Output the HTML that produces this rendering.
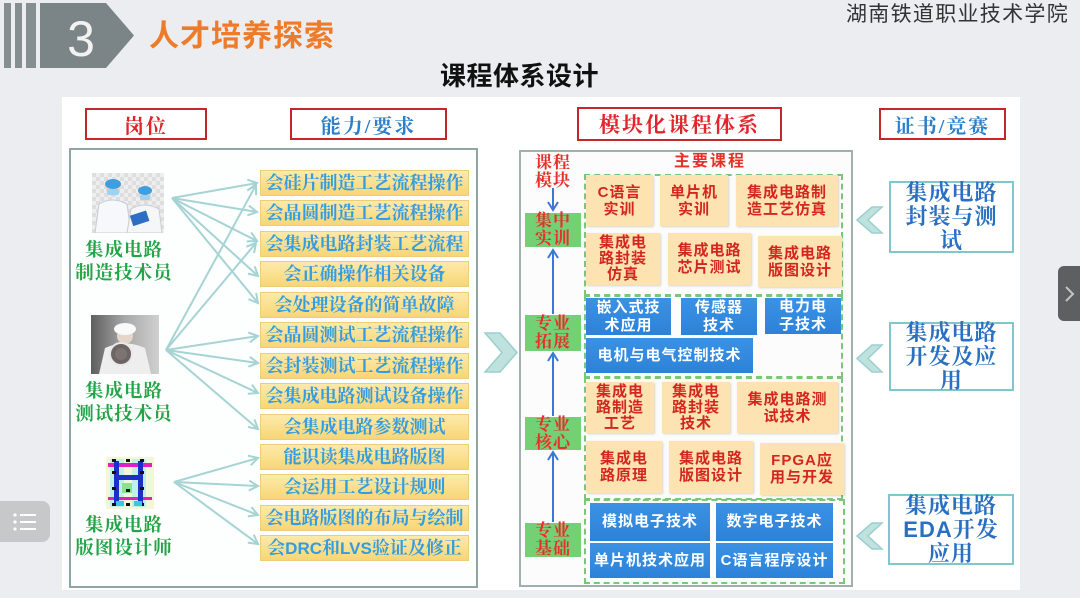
<!DOCTYPE html>
<html>
<head>
<meta charset="utf-8">
<style>
body{margin:0;background:#ebedf0;}
#r{position:relative;width:1080px;height:598px;overflow:hidden;background:#ebedf0;font-family:"Liberation Sans","Noto Sans CJK SC",sans-serif;}
.a{position:absolute;}
.c{position:absolute;display:flex;align-items:center;justify-content:center;text-align:center;box-sizing:border-box;}
.serif{font-family:"Liberation Serif","Noto Serif CJK SC",serif;}
.hb{border:2px solid #c4262c;background:#fff;font-family:"Liberation Serif","Noto Serif CJK SC",serif;font-weight:700;font-size:20px;letter-spacing:2px;}
.ab{left:260px;width:209px;height:26px;background:linear-gradient(180deg,#fdeaaa,#f8d676);border:1px solid #eccd78;color:#349ce0;font-family:"Liberation Serif","Noto Serif CJK SC",serif;font-weight:700;font-size:18px;white-space:nowrap;overflow:hidden;line-height:24px;}
.jl{left:60px;width:128px;color:#23a547;font-family:"Liberation Serif","Noto Serif CJK SC",serif;font-weight:700;font-size:18.5px;letter-spacing:1px;line-height:23px;text-align:center;}
.tan{background:#fce3b1;box-shadow:1px 1px 2px rgba(120,90,40,.25);color:#d3261e;font-weight:700;font-size:15px;line-height:17px;letter-spacing:1px;}
.blu{background:linear-gradient(180deg,#3b92e4,#2c82d8);color:#fff;font-weight:700;font-size:15px;line-height:18px;letter-spacing:1px;}
.gl{left:525px;width:56px;background:#74d074;color:#e6302a;font-family:"Liberation Serif","Noto Serif CJK SC",serif;font-weight:700;font-size:17px;line-height:18px;letter-spacing:1px;}
.ce{border:2px solid #80c7cb;background:#fff;color:#2a70c2;font-family:"Liberation Serif","Noto Serif CJK SC",serif;font-weight:700;font-size:22px;line-height:24px;letter-spacing:1px;}
.dg{position:absolute;border:2px dashed #78c878;box-sizing:border-box;}
</style>
</head>
<body>
<div id="r">
<!-- header -->
<svg class="a" style="left:0;top:0" width="140" height="72">
<rect x="4" y="3" width="7" height="65" fill="#858f91"/>
<rect x="15" y="3" width="7" height="65" fill="#858f91"/>
<rect x="26" y="3" width="10" height="65" fill="#858f91"/>
<polygon points="40,3 106,3 134,35.5 106,68 40,68" fill="#7b8587"/>
<text x="81" y="56" text-anchor="middle" font-family="Liberation Sans, sans-serif" font-size="50" fill="#f2f2f2">3</text>
</svg>
<div class="a" style="left:149px;top:17px;font-size:30px;font-weight:700;color:#ee7b29;letter-spacing:1px;font-family:'Liberation Sans','Noto Sans CJK SC',sans-serif;line-height:40px;">人才培养探索</div>
<div class="a" style="left:846px;top:2px;font-size:21px;color:#333;letter-spacing:1.3px;line-height:26px;">湖南铁道职业技术学院</div>
<div class="a" style="left:440px;top:60px;font-size:26px;font-weight:700;color:#111;letter-spacing:0.5px;line-height:32px;">课程体系设计</div>

<!-- white panel -->
<div class="a" style="left:62px;top:97px;width:958px;height:493px;background:#fff;"></div>

<!-- header boxes -->
<div class="c hb" style="left:85px;top:108px;width:122px;height:32px;color:#e0262c;">岗位</div>
<div class="c hb" style="left:290px;top:108px;width:157px;height:32px;color:#2c7fc8;">能力/要求</div>
<div class="c hb" style="left:577px;top:107px;width:205px;height:34px;color:#e0262c;font-size:21px;">模块化课程体系</div>
<div class="c hb" style="left:879px;top:108px;width:127px;height:32px;color:#2c7fc8;">证书/竞赛</div>

<!-- left panel -->
<div class="a" style="left:69px;top:148px;width:405px;height:436px;border:2px solid #8fa6a4;background:#fdfefe;"></div>

<!-- job images -->
<svg class="a" style="left:92px;top:173px" width="72" height="60">
<defs><pattern id="ck" width="8" height="8" patternUnits="userSpaceOnUse"><rect width="8" height="8" fill="#eeeeee"/><rect width="4" height="4" fill="#dedede"/><rect x="4" y="4" width="4" height="4" fill="#dedede"/></pattern></defs>
<rect width="72" height="60" fill="url(#ck)"/>
<path d="M3,60 L7,31 Q20,23 35,31 L39,60 Z" fill="#f7f8fa" stroke="#c9ccd2"/>
<circle cx="21" cy="16" r="7" fill="#f0d2bc"/>
<ellipse cx="21" cy="11" rx="8" ry="5" fill="#3d9fe0"/>
<rect x="15" y="16" width="12" height="6" rx="2" fill="#9fd2f0"/>
<path d="M35,60 L39,36 Q52,28 67,36 L70,60 Z" fill="#f5f6f8" stroke="#c9ccd2"/>
<circle cx="53" cy="22" r="6" fill="#f0d2bc"/>
<ellipse cx="53" cy="17.5" rx="7" ry="4.5" fill="#3d9fe0"/>
<rect x="48" y="22" width="10" height="5" rx="2" fill="#9fd2f0"/>
<rect x="39" y="40" width="17" height="11" fill="#2d6fc4" transform="rotate(-18 47 45)"/>
</svg>
<svg class="a" style="left:91px;top:315px" width="68" height="59">
<defs><linearGradient id="g2" x1="0" x2="1"><stop offset="0" stop-color="#5e5e5e"/><stop offset="0.5" stop-color="#a8a8a8"/><stop offset="1" stop-color="#d0d0d0"/></linearGradient></defs>
<rect width="68" height="59" fill="url(#g2)"/>
<path d="M8,59 L14,33 Q34,24 54,33 L60,59 Z" fill="#eeeeee"/>
<circle cx="34" cy="21" r="8" fill="#e6d6ca"/>
<ellipse cx="34" cy="14" rx="11" ry="6" fill="#fafafa"/>
<circle cx="30" cy="39" r="11" fill="#6c6563" stroke="#e8e8e8" stroke-width="2"/>
<circle cx="30" cy="39" r="6" fill="#7d7472"/>
</svg>
<svg class="a" style="left:102px;top:453px" width="58" height="59">
<rect width="58" height="59" fill="#fff"/>
<rect x="4" y="4" width="48" height="52" fill="#f2f7d8"/>
<rect x="8" y="6" width="14" height="48" fill="#bff0ea"/>
<rect x="30" y="6" width="14" height="48" fill="#bff0ea"/>
<rect x="6" y="10" width="44" height="4" fill="#e020c0"/>
<rect x="6" y="44" width="44" height="3" fill="#e020c0"/>
<rect x="12" y="8" width="5" height="44" fill="#1c2fc8"/>
<rect x="36" y="8" width="5" height="44" fill="#1c2fc8"/>
<rect x="17" y="22" width="19" height="5" fill="#1c2fc8"/>
<rect x="20" y="30" width="10" height="10" fill="#8de08d"/>
<rect x="10" y="6" width="4" height="3" fill="#111"/><rect x="24" y="6" width="4" height="3" fill="#111"/><rect x="38" y="6" width="4" height="3" fill="#111"/>
<rect x="10" y="18" width="4" height="3" fill="#111"/><rect x="38" y="18" width="4" height="3" fill="#111"/>
<rect x="10" y="34" width="4" height="3" fill="#111"/><rect x="24" y="36" width="4" height="3" fill="#111"/><rect x="38" y="34" width="4" height="3" fill="#111"/>
<rect x="10" y="50" width="4" height="3" fill="#111"/><rect x="24" y="50" width="4" height="3" fill="#111"/><rect x="38" y="50" width="4" height="3" fill="#111"/>
<rect x="14" y="48" width="8" height="5" fill="#3cc8d8"/><rect x="32" y="48" width="8" height="5" fill="#3cc8d8"/>
</svg>

<div class="a jl" style="top:240px;">集成电路<br>制造技术员</div>
<div class="a jl" style="top:381px;">集成电路<br>测试技术员</div>
<div class="a jl" style="top:515px;">集成电路<br>版图设计师</div>

<!-- ability boxes -->
<div class="c ab" style="top:170px;">会硅片制造工艺流程操作</div>
<div class="c ab" style="top:200px;">会晶圆制造工艺流程操作</div>
<div class="c ab" style="top:231px;">会集成电路封装工艺流程</div>
<div class="c ab" style="top:261px;">会正确操作相关设备</div>
<div class="c ab" style="top:292px;">会处理设备的简单故障</div>
<div class="c ab" style="top:322px;">会晶圆测试工艺流程操作</div>
<div class="c ab" style="top:353px;">会封装测试工艺流程操作</div>
<div class="c ab" style="top:383px;">会集成电路测试设备操作</div>
<div class="c ab" style="top:414px;">会集成电路参数测试</div>
<div class="c ab" style="top:444px;">能识读集成电路版图</div>
<div class="c ab" style="top:474px;">会运用工艺设计规则</div>
<div class="c ab" style="top:505px;">会电路版图的布局与绘制</div>
<div class="c ab" style="top:535px;"><div>会<span style="font-family:'Liberation Sans',sans-serif;font-weight:700;font-size:17px;">DRC</span>和<span style="font-family:'Liberation Sans',sans-serif;font-weight:700;font-size:17px;">LVS</span>验证及修正</div></div>

<!-- course panel -->
<div class="a" style="left:519px;top:150px;width:330px;height:433px;border:2px solid #a0b0ad;background:#fbfcfb;"></div>
<div class="a serif" style="left:529px;top:154px;width:48px;text-align:center;color:#e6302a;font-weight:700;font-size:17px;line-height:18px;letter-spacing:1px;">课程<br>模块</div>
<div class="a" style="left:660px;top:152px;width:100px;text-align:center;color:#e6302a;font-weight:700;font-size:16px;line-height:20px;letter-spacing:2px;">主要课程</div>

<div class="c gl" style="top:213px;height:34px;">集中<br>实训</div>
<div class="c gl" style="top:315px;height:36px;">专业<br>拓展</div>
<div class="c gl" style="top:417px;height:33px;">专业<br>核心</div>
<div class="c gl" style="top:523px;height:34px;">专业<br>基础</div>

<!-- dashed groups -->
<div class="dg" style="left:584px;top:174px;width:259px;height:122px;"></div>
<div class="dg" style="left:584px;top:295px;width:259px;height:83px;"></div>
<div class="dg" style="left:584px;top:377px;width:259px;height:123px;"></div>
<div class="dg" style="left:584px;top:499px;width:261px;height:85px;"></div>

<!-- group 1 -->
<div class="c tan" style="left:586px;top:175px;width:67px;height:51px;">C语言<br>实训</div>
<div class="c tan" style="left:660px;top:175px;width:68px;height:51px;">单片机<br>实训</div>
<div class="c tan" style="left:736px;top:175px;width:102px;height:51px;">集成电路制<br>造工艺仿真</div>
<div class="c tan" style="left:586px;top:233px;width:74px;height:52px;line-height:16px;">集成电<br>路封装<br>仿真</div>
<div class="c tan" style="left:668px;top:233px;width:83px;height:52px;">集成电路<br>芯片测试</div>
<div class="c tan" style="left:758px;top:236px;width:84px;height:51px;">集成电路<br>版图设计</div>

<!-- group 2 -->
<div class="c blu" style="left:586px;top:298px;width:85px;height:37px;">嵌入式技<br>术应用</div>
<div class="c blu" style="left:681px;top:298px;width:76px;height:37px;">传感器<br>技术</div>
<div class="c blu" style="left:765px;top:298px;width:76px;height:36px;">电力电<br>子技术</div>
<div class="c blu" style="left:586px;top:338px;width:167px;height:35px;">电机与电气控制技术</div>

<!-- group 3 -->
<div class="c tan" style="left:586px;top:382px;width:68px;height:51px;line-height:16px;">集成电<br>路制造<br>工艺</div>
<div class="c tan" style="left:662px;top:382px;width:68px;height:51px;line-height:16px;">集成电<br>路封装<br>技术</div>
<div class="c tan" style="left:737px;top:382px;width:101px;height:51px;">集成电路测<br>试技术</div>
<div class="c tan" style="left:586px;top:441px;width:76px;height:52px;">集成电<br>路原理</div>
<div class="c tan" style="left:669px;top:441px;width:84px;height:52px;">集成电路<br>版图设计</div>
<div class="c tan" style="left:760px;top:443px;width:84px;height:52px;">FPGA应<br>用与开发</div>

<!-- group 4 -->
<div class="c blu" style="left:590px;top:503px;width:120px;height:38px;">模拟电子技术</div>
<div class="c blu" style="left:716px;top:503px;width:117px;height:38px;">数字电子技术</div>
<div class="c blu" style="left:590px;top:543px;width:120px;height:35px;">单片机技术应用</div>
<div class="c blu" style="left:716px;top:543px;width:117px;height:35px;">C语言程序设计</div>

<!-- certificates -->
<div class="c ce" style="left:889px;top:181px;width:125px;height:72px;"><div>集成电路<br>封装与测<br>试</div></div>
<div class="c ce" style="left:889px;top:322px;width:125px;height:69px;"><div>集成电路<br>开发及应<br>用</div></div>
<div class="c ce" style="left:888px;top:494px;width:126px;height:71px;"><div>集成电路<br><span style="font-family:'Liberation Sans',sans-serif;">EDA</span>开发<br>应用</div></div>

<!-- connectors -->
<svg class="a" style="left:0;top:0" width="1080" height="598">
<defs>
<marker id="m" markerWidth="12" markerHeight="12" refX="10" refY="6" orient="auto" markerUnits="userSpaceOnUse"><path d="M1,1 L10,6 L1,11" fill="none" stroke="#a6d3d3" stroke-width="2"/></marker>
<marker id="b" markerWidth="12" markerHeight="12" refX="10" refY="6" orient="auto" markerUnits="userSpaceOnUse"><path d="M2,1 L10,6 L2,11" fill="none" stroke="#3a78d8" stroke-width="2"/></marker>
</defs>
<g stroke="#a6d3d3" stroke-width="2" fill="none" marker-end="url(#m)">
<line x1="172" y1="198" x2="257" y2="183"/>
<line x1="172" y1="198" x2="257" y2="212"/>
<line x1="172" y1="198" x2="257" y2="241"/>
<line x1="172" y1="198" x2="258" y2="276"/>
<line x1="172" y1="198" x2="258" y2="303"/>
<line x1="166" y1="350" x2="256" y2="185"/>
<line x1="166" y1="350" x2="256" y2="243"/>
<line x1="166" y1="350" x2="258" y2="336"/>
<line x1="166" y1="350" x2="258" y2="363"/>
<line x1="166" y1="350" x2="258" y2="393"/>
<line x1="166" y1="350" x2="258" y2="429"/>
<line x1="174" y1="482" x2="258" y2="458"/>
<line x1="174" y1="482" x2="258" y2="486"/>
<line x1="174" y1="482" x2="258" y2="515"/>
<line x1="174" y1="482" x2="258" y2="544"/>
</g>
<g stroke="#3a78d8" stroke-width="2" fill="none" marker-end="url(#b)">
<line x1="553" y1="188" x2="553" y2="210"/>
<line x1="553" y1="314" x2="553" y2="250"/>
<line x1="553" y1="416" x2="553" y2="353"/>
<line x1="553" y1="522" x2="553" y2="452"/>
</g>
<polygon points="485,333 500,333 517,352.5 500,372 485,372 502,352.5" fill="#bfe2de" stroke="#9bcfcf" stroke-width="1.5"/>
<polygon points="882,207 872,207 857,220 872,233 882,233 868,220" fill="#bfe2de" stroke="#9bcfcf" stroke-width="1.5"/>
<polygon points="882,345 872,345 857,358.5 872,372 882,372 868,358.5" fill="#bfe2de" stroke="#9bcfcf" stroke-width="1.5"/>
<polygon points="882,523 872,523 857,536 872,549 882,549 868,536" fill="#bfe2de" stroke="#9bcfcf" stroke-width="1.5"/>
</svg>

<!-- floating UI -->
<div class="a" style="left:-10px;top:501px;width:60px;height:41px;background:#c6c8ca;border-radius:8px;"></div>
<svg class="a" style="left:12px;top:511px" width="26" height="22">
<g fill="#fff"><circle cx="3" cy="4" r="1.6"/><circle cx="3" cy="11" r="1.6"/><circle cx="3" cy="18" r="1.6"/>
<rect x="8" y="3" width="16" height="2"/><rect x="8" y="10" width="16" height="2"/><rect x="8" y="17" width="16" height="2"/></g>
</svg>
<div class="a" style="left:1058px;top:266px;width:40px;height:55px;background:#5e5f61;border-radius:6px;"></div>
<svg class="a" style="left:1062px;top:284px" width="16" height="20"><path d="M4,3 L11,10 L4,17" fill="none" stroke="#c4c4c4" stroke-width="2"/></svg>
</div>
</body>
</html>
